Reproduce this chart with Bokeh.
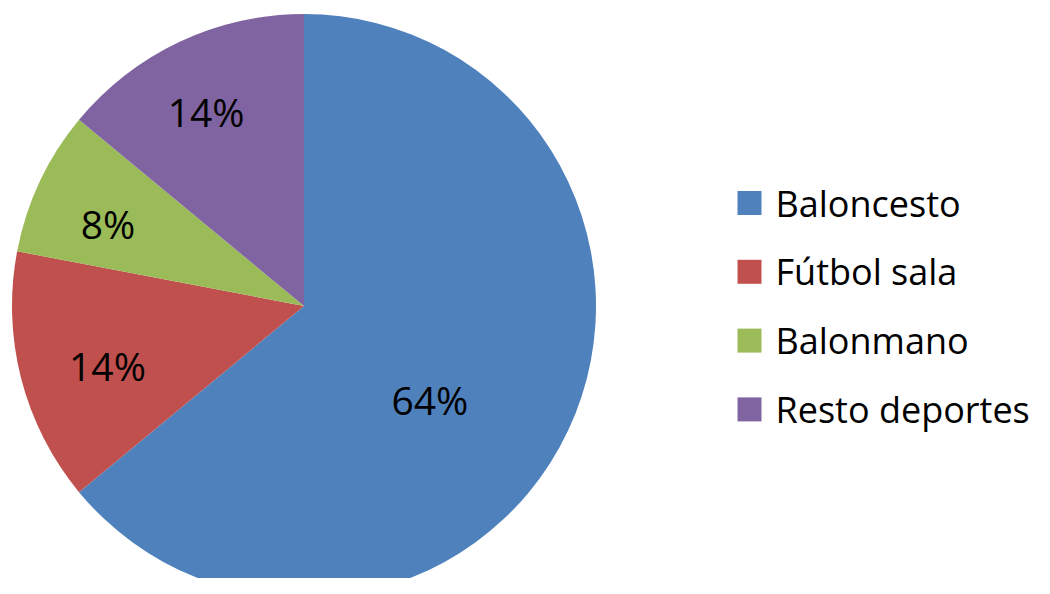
import math
from bokeh.plotting import figure
from bokeh.models import Range1d, ColumnDataSource
from bokeh.core.properties import value
from bokeh.embed import file_html
from bokeh.resources import INLINE

# ---- data ----
categories = ["Baloncesto", "Fútbol sala", "Balonmano", "Resto deportes"]
shares = [64, 14, 8, 14]
labels = ["64%", "14%", "8%", "14%"]
colors = ["#4F81BD", "#C0504D", "#9BBB59", "#8064A2"]

# ---- layout (pixels; 1 data unit == 1 px, y measured from bottom) ----
W, H = 1034, 578
cx, cy, R = 303.5, H - 305.5, 292
lab_rad = [0.537, 0.703, 0.729, 0.746]      # label distance as fraction of radius
lab_dang = [11.4, -2.4, -2.3, -1.5]           # label angle tweak (deg, clockwise)
FONT = "Open Sans"

total = float(sum(shares))
starts, ends, lx, ly = [], [], [], []
cum = 0.0
for i, s in enumerate(shares):
    a0 = cum / total * 360.0
    cum += s
    a1 = cum / total * 360.0
    starts.append(math.radians(90 - a0))
    ends.append(math.radians(90 - a1))
    mid = (a0 + a1) / 2 + lab_dang[i]
    r = R * lab_rad[i]
    lx.append(cx + r * math.sin(math.radians(mid)))
    ly.append(cy + r * math.cos(math.radians(mid)))

src = ColumnDataSource(dict(cat=categories, start=starts, end=ends, color=colors,
                            lx=lx, ly=ly, lab=labels))

p = figure(width=W, height=H, output_backend="svg", toolbar_location=None,
           x_range=Range1d(0, W), y_range=Range1d(0, H), min_border=0)
p.axis.visible = False
p.grid.visible = False
p.outline_line_color = None
p.background_fill_color = "white"

p.wedge(x=cx, y=cy, radius=R, start_angle="start", end_angle="end",
        direction="clock", fill_color="color", line_color=None, source=src)
p.text(x="lx", y="ly", text="lab", source=src, text_font=value(FONT),
       text_font_size="39px", text_align="center", text_baseline="middle",
       text_color="black")

# legend drawn manually
leg_x, leg_top, leg_step, sq = 749, H - 202.5, 68.8, 24
lgx = [leg_x] * len(categories)
lgy = [leg_top - i * leg_step for i in range(len(categories))]
lsrc = ColumnDataSource(dict(x=lgx, y=lgy, tx=[v + 26 for v in lgx], cat=categories, color=colors))
p.rect(x="x", y="y", width=sq, height=sq, fill_color="color", line_color=None, source=lsrc)
p.text(x="tx", y="y", text="cat", source=lsrc, text_font=value(FONT),
       text_font_size="36px", text_align="left", text_baseline="middle", text_color="black")

open("out.html", "w").write(file_html(p, INLINE))
